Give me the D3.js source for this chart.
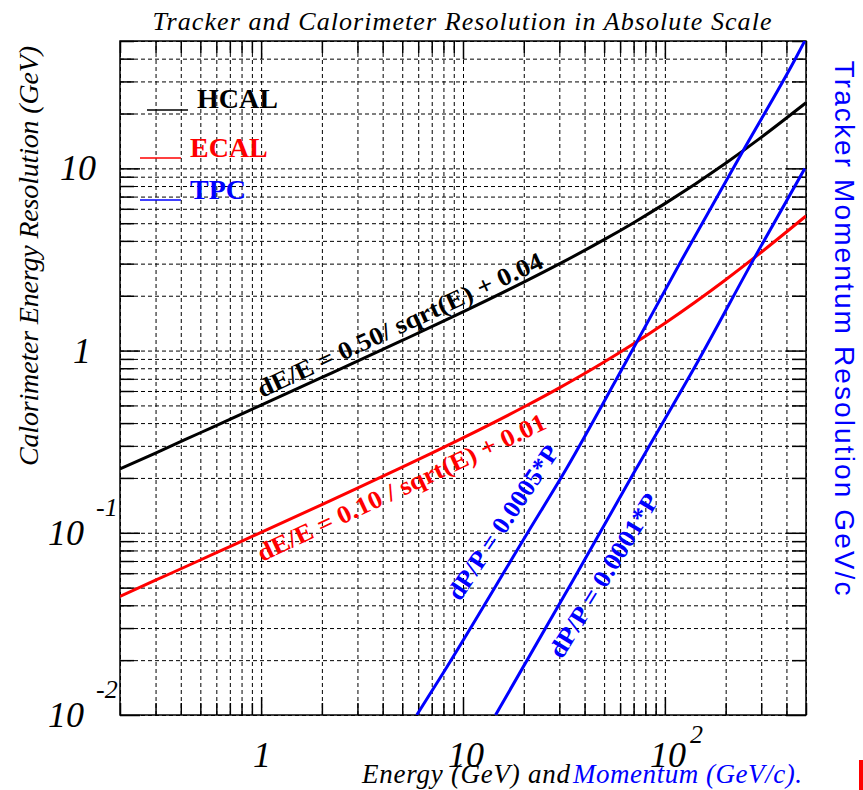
<!DOCTYPE html>
<html>
<head>
<meta charset="utf-8">
<script src="https://cdn.jsdelivr.net/npm/d3@7"></script>
<style>
body { margin: 0; background: #fff; }
svg { display: block; }
</style>
</head>
<body>
<div id="chart"></div>
<script>
// energy grid for calorimeter curves (GeV)
const energy  = [0.2, 0.3, 0.5, 0.7, 1, 2, 3, 5, 7, 10, 20, 30, 50, 70, 100, 200, 300, 500];
const hcalRes = [0.224, 0.274, 0.354, 0.419, 0.502, 0.712, 0.874, 1.136, 1.352, 1.631, 2.375, 2.990, 4.062, 5.034, 6.403, 10.68, 14.80, 22.91];
const ecalRes = [0.0448, 0.0549, 0.0709, 0.0840, 0.1005, 0.1428, 0.1758, 0.2291, 0.2737, 0.3317, 0.4899, 0.6245, 0.8660, 1.091, 1.414, 2.449, 3.464, 5.477];

// tracker lines (momentum GeV/c, resolution)
const tpcMomA = [5.9, 7.6, 20.9, 32.4, 65.3, 122, 252, 445, 493];
const tpcResA = [0.010, 0.0156, 0.100, 0.223, 0.90, 3.19, 13.3, 40.3, 50];
const tpcMomB = [14.5, 35.2, 71.8, 148, 282, 493];
const tpcResB = [0.010, 0.0553, 0.223, 0.90, 3.33, 9.98];

const xLabelValues = [1, 10, 100];
const xLabelBase   = ["1", "10", "10"];
const xLabelExp    = ["", "", "2"];
const yLabelValues = [0.01, 0.1, 1, 10];
const yLabelBase   = ["10", "10", "1", "10"];
const yLabelExp    = ["-2", "-1", "", ""];

const legendNames  = ["HCAL", "ECAL", "TPC"];
const legendColors = ["#000", "#ff0000", "#0000ff"];

const width = 863, height = 790;
const margin = { top: 41, right: 57, bottom: 75, left: 120 };
const x0 = margin.left, x1 = width - margin.right;
const y0 = height - margin.bottom, y1 = margin.top;

const x = d3.scaleLog().domain([0.2, 500]).range([x0, x1]);
const y = d3.scaleLog().domain([0.01, 50]).range([y0, y1]);

const svg = d3.select("#chart").append("svg")
    .attr("width", width)
    .attr("height", height);

const serif = "'Liberation Serif', 'Times New Roman', serif";

// grid
const xTicks = x.ticks();
const yTicks = y.ticks();
const isMajor = v => Math.abs(Math.log10(v) - Math.round(Math.log10(v))) < 1e-9;

svg.append("g")
    .attr("transform", `translate(0,${y0})`)
    .call(d3.axisBottom(x).tickValues(xTicks).tickSize(-(y0 - y1)).tickFormat(""))
    .call(g => g.select(".domain").remove())
    .selectAll("line").attr("stroke", "#000").attr("stroke-dasharray", "4,3");

svg.append("g")
    .attr("transform", `translate(${x0},0)`)
    .call(d3.axisLeft(y).tickValues(yTicks).tickSize(-(x1 - x0)).tickFormat(""))
    .call(g => g.select(".domain").remove())
    .selectAll("line").attr("stroke", "#000").attr("stroke-dasharray", "4,3");

// ticks on all four sides
function ticks(axis, transform, vals, size) {
    svg.append("g")
        .attr("transform", transform)
        .call(axis.tickValues(vals).tickSize(size).tickFormat(""))
        .call(g => g.select(".domain").remove())
        .selectAll("line").attr("stroke", "#000").attr("stroke-width", 1.5);
}
const xMinor = xTicks.filter(v => !isMajor(v)), xMajor = xTicks.filter(isMajor);
const yMinor = yTicks.filter(v => !isMajor(v)), yMajor = yTicks.filter(isMajor);
ticks(d3.axisBottom(x), `translate(0,${y0})`, xMinor, -12);
ticks(d3.axisBottom(x), `translate(0,${y0})`, xMajor, -18);
ticks(d3.axisTop(x), `translate(0,${y1})`, xMinor, -12);
ticks(d3.axisTop(x), `translate(0,${y1})`, xMajor, -18);
ticks(d3.axisLeft(y), `translate(${x0},0)`, yMinor, -14);
ticks(d3.axisLeft(y), `translate(${x0},0)`, yMajor, -20);
ticks(d3.axisRight(y), `translate(${x1},0)`, yMinor, -14);
ticks(d3.axisRight(y), `translate(${x1},0)`, yMajor, -20);

// frame
svg.append("rect")
    .attr("x", x0).attr("y", y1)
    .attr("width", x1 - x0).attr("height", y0 - y1)
    .attr("fill", "none").attr("stroke", "#000").attr("stroke-width", 1.5);

// curves
svg.append("clipPath").attr("id", "plot")
    .append("rect").attr("x", x0).attr("y", y1).attr("width", x1 - x0).attr("height", y0 - y1);

const line = d3.line().x(d => x(d[0])).y(d => y(d[1])).curve(d3.curveMonotoneX);
const curves = [
    { xs: energy, ys: hcalRes, color: "#000" },
    { xs: energy, ys: ecalRes, color: "#ff0000" },
    { xs: tpcMomA, ys: tpcResA, color: "#0000ff" },
    { xs: tpcMomB, ys: tpcResB, color: "#0000ff" }
];
svg.append("g").attr("clip-path", "url(#plot)")
    .selectAll("path")
    .data(curves)
    .enter()
    .append("path")
    .attr("d", c => line(c.xs.map((v, i) => [v, c.ys[i]])))
    .attr("fill", "none")
    .attr("stroke", c => c.color)
    .attr("stroke-width", 3);

// labels along the curves
function curveLabel(txt, color, sx, sy, ex, ey) {
    const ang = Math.atan2(ey - sy, ex - sx) * 180 / Math.PI;
    const len = Math.hypot(ex - sx, ey - sy);
    svg.append("text")
        .attr("transform", `translate(${sx},${sy}) rotate(${ang})`)
        .attr("font-family", serif)
        .attr("font-weight", "bold")
        .attr("font-size", 25)
        .attr("fill", color)
        .attr("textLength", len)
        .attr("lengthAdjust", "spacingAndGlyphs")
        .text(txt);
}
curveLabel("dE/E = 0.50/ sqrt(E) + 0.04", "#000", 262, 398, 545, 267);
curveLabel("dE/E = 0.10 / sqrt(E) + 0.01", "#ff0000", 262, 562, 548, 428);
curveLabel("dP/P = 0.0005*P", "#0000ff", 460, 602, 560, 452);
curveLabel("dP/P = 0.0001*P", "#0000ff", 562, 660, 660, 500);

// legend
const legend = svg.append("g");
legendNames.forEach((name, i) => {
    const ly = [110, 158, 200][i];
    const lx = i === 0 ? 147 : 140;
    legend.append("line")
        .attr("x1", lx).attr("x2", lx + 41)
        .attr("y1", ly).attr("y2", ly)
        .attr("stroke", legendColors[i]).attr("stroke-width", 1.3);
    legend.append("text")
        .attr("x", i === 0 ? 197 : 190).attr("y", ly - (i === 0 ? 2 : 1))
        .attr("font-family", serif).attr("font-weight", "bold")
        .attr("font-size", 28).attr("fill", legendColors[i])
        .text(name);
});

// tick labels
xLabelValues.forEach((v, i) => {
    const cx = x(v) + (i === 0 ? 1 : 3);
    svg.append("text")
        .attr("x", cx).attr("y", 767)
        .attr("text-anchor", "middle")
        .attr("font-family", serif).attr("font-style", "italic")
        .attr("font-size", 36)
        .text(xLabelBase[i]);
    if (xLabelExp[i]) {
        svg.append("text")
            .attr("x", cx + 22).attr("y", 743)
            .attr("font-family", serif).attr("font-style", "italic")
            .attr("font-size", 26)
            .text(xLabelExp[i]);
    }
});
yLabelValues.forEach((v, i) => {
    const cy = y(v);
    const hasExp = !!yLabelExp[i];
    svg.append("text")
        .attr("x", hasExp ? 84 : (yLabelBase[i] === "1" ? 91 : 96))
        .attr("y", cy + 12)
        .attr("text-anchor", "end")
        .attr("font-family", serif).attr("font-style", "italic")
        .attr("font-size", 36)
        .text(yLabelBase[i]);
    if (hasExp) {
        svg.append("text")
            .attr("x", 96).attr("y", cy - 17)
            .attr("font-family", serif).attr("font-style", "italic")
            .attr("font-size", 26)
            .text(yLabelExp[i]);
    }
});

// titles
svg.append("text")
    .attr("x", 462).attr("y", 30)
    .attr("text-anchor", "middle")
    .attr("font-family", serif).attr("font-style", "italic")
    .attr("font-size", 26)
    .attr("textLength", 619).attr("lengthAdjust", "spacing")
    .text("Tracker and Calorimeter Resolution in Absolute Scale");

svg.append("text")
    .attr("transform", "translate(38,256) rotate(-90)")
    .attr("text-anchor", "middle")
    .attr("font-family", serif).attr("font-style", "italic")
    .attr("font-size", 28)
    .attr("textLength", 420).attr("lengthAdjust", "spacing")
    .text("Calorimeter Energy Resolution (GeV)");

svg.append("text")
    .attr("transform", "translate(835,328) rotate(90)")
    .attr("text-anchor", "middle")
    .attr("font-family", "'Liberation Sans', Arial, sans-serif")
    .attr("font-size", 28)
    .attr("fill", "#0000ff")
    .attr("textLength", 535).attr("lengthAdjust", "spacing")
    .text("Tracker Momentum Resolution GeV/c");

svg.append("text")
    .attr("x", 362).attr("y", 783)
    .attr("font-family", serif).attr("font-style", "italic")
    .attr("font-size", 27)
    .attr("textLength", 208).attr("lengthAdjust", "spacing")
    .text("Energy (GeV) and");
svg.append("text")
    .attr("x", 573).attr("y", 783)
    .attr("font-family", serif).attr("font-style", "italic")
    .attr("font-size", 27).attr("fill", "#0000ff")
    .attr("textLength", 229).attr("lengthAdjust", "spacing")
    .text("Momentum (GeV/c).");

// small red mark at the bottom-right corner
svg.append("rect")
    .attr("x", 859).attr("y", 760).attr("width", 4).attr("height", 30)
    .attr("fill", "#ff0000");
</script>
</body>
</html>
